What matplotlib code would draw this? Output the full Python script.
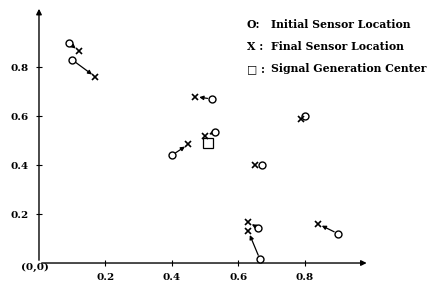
import matplotlib
matplotlib.use("Agg")
import matplotlib.pyplot as plt

# initial (O) and final (X) sensor locations
init_x = [0.09, 0.10, 0.52, 0.40, 0.53, 0.67, 0.80, 0.66, 0.665, 0.90]
init_y = [0.90, 0.83, 0.67, 0.44, 0.535, 0.40, 0.60, 0.143, 0.016, 0.12]
final_x = [0.12, 0.17, 0.47, 0.45, 0.50, 0.65, 0.79, 0.63, 0.63, 0.84]
final_y = [0.865, 0.76, 0.68, 0.485, 0.52, 0.40, 0.59, 0.167, 0.13, 0.16]
center_x = [0.51]
center_y = [0.49]
ticks = [0.2, 0.4, 0.6, 0.8]
tick_labels = ["0.2", "0.4", "0.6", "0.8"]
legend_labels = ["O:", "X :", "\u25a1 :"]
legend_texts = ["Initial Sensor Location", "Final Sensor Location", "Signal Generation Center"]

plt.rcParams['font.family'] = ['DejaVu Serif']
fig = plt.figure(figsize=(4.28, 2.84), dpi=100)
ax = fig.add_axes([0.0911, 0.0739, 0.776, 0.905])
ax.set_xlim(0, 1.0)
ax.set_ylim(0, 1.05)
for s in ax.spines.values():
    s.set_visible(False)

# axes with arrows
ax.annotate("", xy=(0.995, 0), xytext=(0, 0), xycoords='data',
            arrowprops=dict(arrowstyle='-|>', lw=1.0, color='black', mutation_scale=8),
            annotation_clip=False)
ax.annotate("", xy=(0, 1.05), xytext=(0, 0), xycoords='data',
            arrowprops=dict(arrowstyle='-|>', lw=1.0, color='black', mutation_scale=8),
            annotation_clip=False)

ax.set_xticks(ticks)
ax.set_xticklabels(tick_labels, fontweight='bold', fontsize=7.5)
ax.set_yticks(ticks)
ax.set_yticklabels(tick_labels, fontweight='bold', fontsize=7.5)
ax.tick_params(direction='inout', length=5, width=0.8, pad=5)
ax.text(-0.012, -0.02, "(0,0)", ha='center', va='center', fontsize=7.5, fontweight='bold')

# movement arrows
for xi, yi, xf, yf in zip(init_x, init_y, final_x, final_y):
    if abs(xi - xf) + abs(yi - yf) > 0.025:
        ax.annotate("", xy=(xf, yf), xytext=(xi, yi),
                    arrowprops=dict(arrowstyle='-|>', lw=0.9, color='black',
                                    mutation_scale=6, shrinkA=3, shrinkB=3))

ax.plot(init_x, init_y, 'o', ms=5, mfc='white', mec='black', mew=1.0, ls='none', zorder=3)
ax.plot(final_x, final_y, 'x', ms=5, color='black', mew=1.2, ls='none', zorder=3)
ax.plot(center_x, center_y, 's', ms=7, mfc='none', mec='black', mew=0.9, ls='none', zorder=3)

# legend text
leg_y = [0.975, 0.885, 0.795]
for lab, txt, yy in zip(legend_labels, legend_texts, leg_y):
    ax.text(0.625, yy, lab, fontsize=7.8, fontweight='bold', va='center', ha='left')
    ax.text(0.70, yy, txt, fontsize=7.8, fontweight='bold', va='center', ha='left')

fig.savefig("out.png", dpi=100)
